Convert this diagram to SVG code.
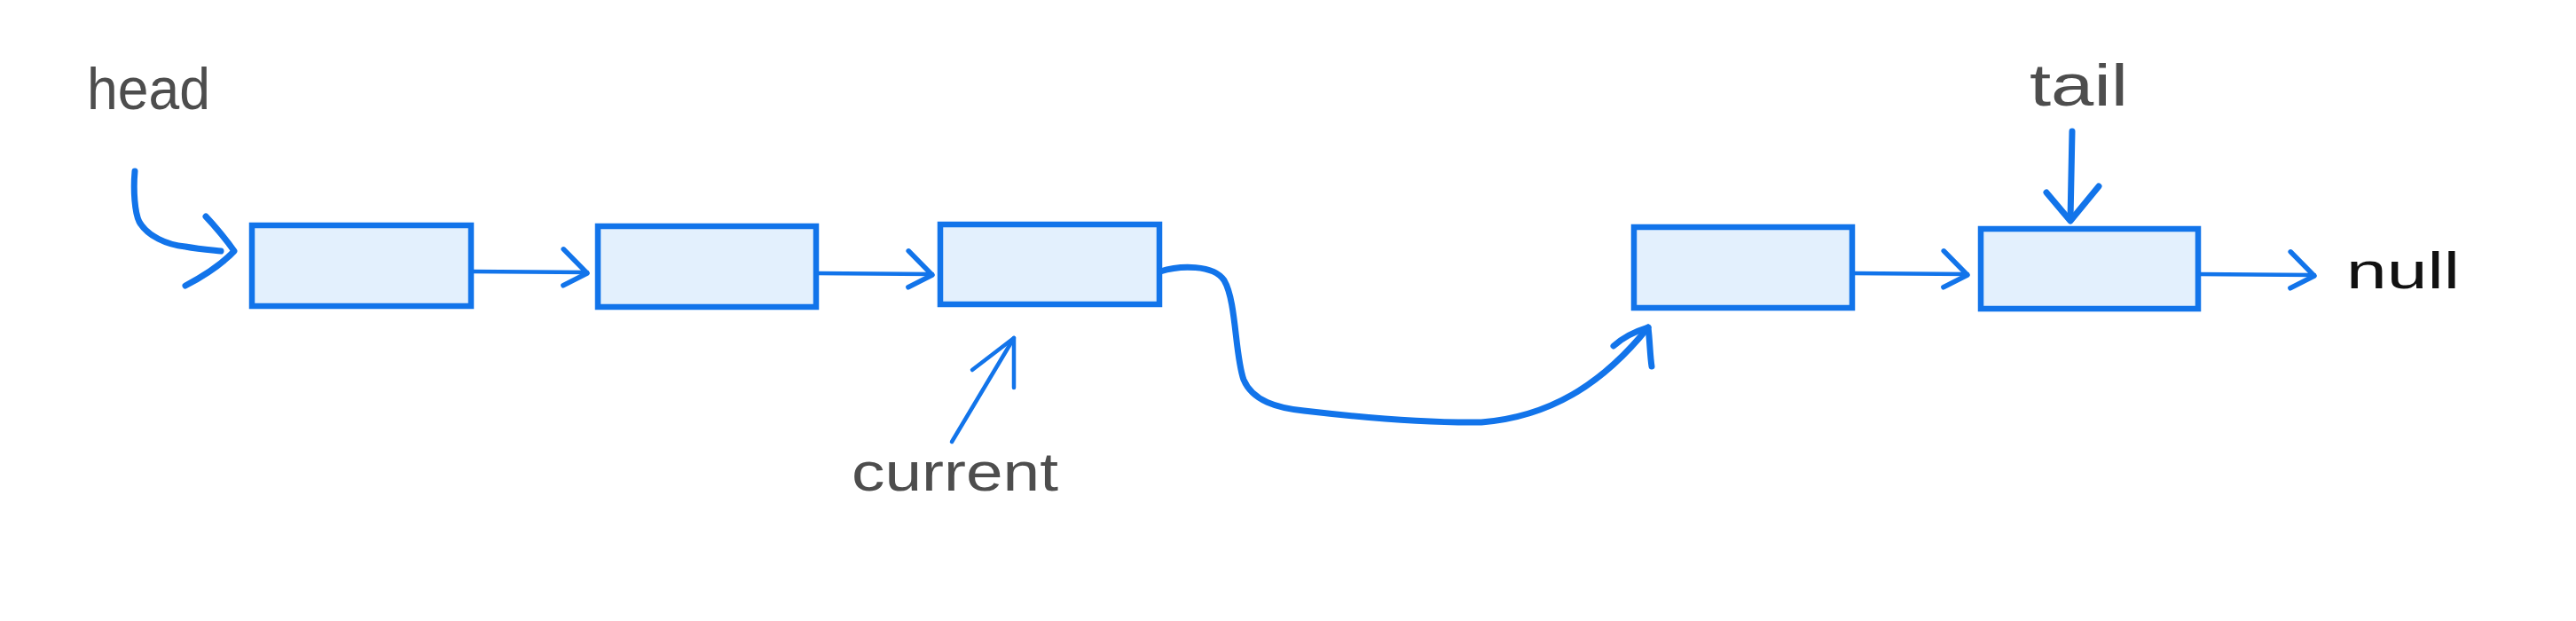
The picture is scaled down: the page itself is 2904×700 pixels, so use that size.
<svg xmlns="http://www.w3.org/2000/svg" width="2904" height="700" viewBox="0 0 2904 700">
  <style>
    .node rect { fill: #e3f0fd; stroke: #1274ea; stroke-width: 6.5; }
    .conn { fill: none; stroke: #1274ea; stroke-linecap: round; stroke-linejoin: round; }
    .thin { stroke-width: 4.5; }
    .thick { stroke-width: 7; }
    .label { font-family: "Liberation Sans", "Noto Sans", sans-serif; fill: #4d4d4d; }
    .black { fill: #111111; }
  </style>
  <defs>
    <marker id="chev" markerUnits="userSpaceOnUse" viewBox="-32 -30 36 52" markerWidth="36" markerHeight="52" refX="0" refY="0" orient="auto" overflow="visible">
      <path d="M -27 -26 L 0 1 L -27 15" fill="none" stroke="#1274ea" stroke-width="5.5" stroke-linecap="round" stroke-linejoin="round"/>
    </marker>
  </defs>
  <rect width="2904" height="700" fill="#ffffff"/>

  <g id="label-head"><text class="label" x="98" y="123" font-size="66" textLength="139" lengthAdjust="spacingAndGlyphs">head</text></g>
  <g id="label-tail"><text class="label" x="2288" y="119" font-size="66" textLength="111" lengthAdjust="spacingAndGlyphs">tail</text></g>
  <g id="label-current"><text class="label" x="960" y="553" font-size="62" textLength="233" lengthAdjust="spacingAndGlyphs">current</text></g>
  <g id="label-null"><text class="label black" x="2645" y="325" font-size="58" textLength="128" lengthAdjust="spacingAndGlyphs">null</text></g>

  <g id="node1" class="node"><rect x="284" y="254" width="247" height="91"/></g>
  <g id="node2" class="node"><rect x="674" y="255" width="246" height="91"/></g>
  <g id="node3" class="node"><rect x="1060" y="253" width="247" height="90"/></g>
  <g id="node4" class="node"><rect x="1842" y="256" width="246" height="91"/></g>
  <g id="node5" class="node"><rect x="2233" y="258" width="245" height="90"/></g>

  <g id="connectors">
    <path class="conn thin" d="M 531 306 L 662 307" marker-end="url(#chev)"/>
    <path class="conn thin" d="M 920 308 L 1051 309" marker-end="url(#chev)"/>
    <path class="conn thin" d="M 2088 308 L 2218 309" marker-end="url(#chev)"/>
    <path class="conn thin" d="M 2478 309 L 2609 310" marker-end="url(#chev)"/>

    <path class="conn thick" d="M 152 193 C 150 215 152 240 157 250 C 166 266 188 276 209 278 C 225 281 240 282 249 283"/>
    <path class="conn thick" d="M 232 244 C 245 258 255 270 264 283 C 248 300 228 312 209 322"/>

    <path class="conn thin" d="M 1073 498 L 1143 381"/>
    <path class="conn thin" d="M 1096 417 L 1143 381 L 1143 437"/>

    <path class="conn thick" d="M 2336 148 L 2334 248"/>
    <path class="conn thick" d="M 2307 217 L 2334 249 L 2366 210"/>

    <path class="conn thick" d="M 1308 306 C 1330 299 1368 298 1380 316 C 1394 340 1392 400 1402 428 C 1412 452 1440 460 1470 463 C 1530 470 1600 477 1670 476 C 1745 470 1805 435 1858 369"/>
    <path class="conn thick" d="M 1819 390 C 1830 380 1845 373 1858 369 C 1860 385 1860 400 1862 413"/>
  </g>
</svg>
